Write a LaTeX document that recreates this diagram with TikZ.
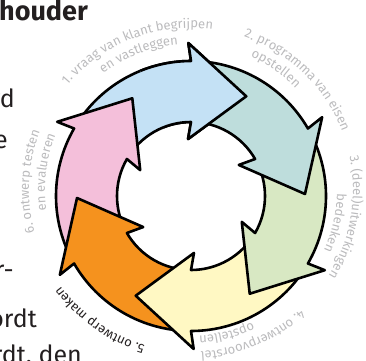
\documentclass[tikz,border=0pt]{standalone}
\usepackage{fontspec}
\setmainfont{Fira Sans}
\usepackage{xcolor}
\usetikzlibrary{decorations.text}

\definecolor{stepblue}{HTML}{C4E1F5}
\definecolor{stepteal}{HTML}{BEDDDC}
\definecolor{stepgreen}{HTML}{D8E8C3}
\definecolor{stepyellow}{HTML}{FFF8C3}
\definecolor{steporange}{HTML}{F5921E}
\definecolor{steppink}{HTML}{F4BFDA}
\definecolor{lblgray}{HTML}{BBBBBD}
\definecolor{inkdark}{HTML}{231F20}

% radii of the ring of arrows
\newcommand{\rout}{135}
\newcommand{\rin}{74}
\newcommand{\rspike}{153}
\newcommand{\rbarb}{57}
\newcommand{\rtip}{114}

\tikzset{
  ringarrow/.style={draw=black, line width=2.6pt, line join=round},
  bodytxt/.style={inner sep=0pt, text=inkdark, font=\fontsize{25}{25}\selectfont},
}
\newcommand{\lblfont}{\fontsize{13}{13}\selectfont}

% #1 colour, #2 tail angle, #3 angle of the head
\newcommand{\ringarrow}[3]{%
  \filldraw[ringarrow, fill=#1] (#2:\rout) arc[start angle=#2, end angle=#3, radius=\rout]
    -- (#3+1:\rspike) -- (#3-29:\rtip) -- (#3+3:\rbarb) -- (#3:\rin)
    arc[start angle=#3, end angle=#2, radius=\rin] -- cycle;}

% #1 middle angle, #2 radius, #3 colour, #4 text
\newcommand{\arclabel}[4]{%
  \path[decorate, decoration={text along path, text align=center,
      text={|\lblfont\color{#3}|#4}}]
    (#1+50:#2) arc[start angle=#1+50, end angle=#1-50, radius=#2];}

\begin{document}
\begin{tikzpicture}[x=1pt, y=1pt]
\path[use as bounding box, clip] (0,0) rectangle (366,360);

% text of the page
\node[bodytxt, font=\fontsize{27}{27}\selectfont\bfseries, anchor=base west] (head) at (-1,340) {houder};
\node[bodytxt, anchor=base east] (line1) at (15,253) {rd};
\node[bodytxt, anchor=base east] (line2) at (8,212) {e};
\node[bodytxt, anchor=base east] (line3) at (14,82) {r-};
\node[bodytxt, anchor=base east] (line4) at (37,33) {ordt};
\node[bodytxt, anchor=base east] (line5) at (82,-3) {rdt, den};

% the six steps
\begin{scope}[shift={(191,164)}]
\ringarrow{stepblue}{150}{90}
\ringarrow{steppink}{210}{150}
\ringarrow{steporange}{270}{210}
\ringarrow{stepyellow}{330}{270}
\ringarrow{stepgreen}{30}{-30}
\ringarrow{stepteal}{90}{30}
\begin{scope}
\clip (0,0) -- (112:170) arc[start angle=112, end angle=40, radius=170] -- cycle;
\ringarrow{stepblue}{150}{90}
\end{scope}
\end{scope}

% labels round the ring
\begin{scope}[shift={(191,170)}]
\arclabel{111}{162}{lblgray}{1. vraag van klant begrijpen}
\arclabel{111}{146}{lblgray}{en vastleggen}
\arclabel{46}{162}{lblgray}{2. programma van eisen}
\arclabel{55}{146}{lblgray}{opstellen}
\arclabel{-10}{162}{lblgray}{3. (deel)uitwerkingen}
\arclabel{-13}{146}{lblgray}{bedenken}
\arclabel{-67}{162}{lblgray}{4. ontwerpvoorstel}
\arclabel{-76}{146}{lblgray}{opstellen}
\arclabel{-125}{162}{inkdark}{5. ontwerp maken}
\arclabel{177}{162}{lblgray}{6. ontwerp testen}
\arclabel{173}{146}{lblgray}{en evalueren}
\end{scope}

\end{tikzpicture}
\end{document}
